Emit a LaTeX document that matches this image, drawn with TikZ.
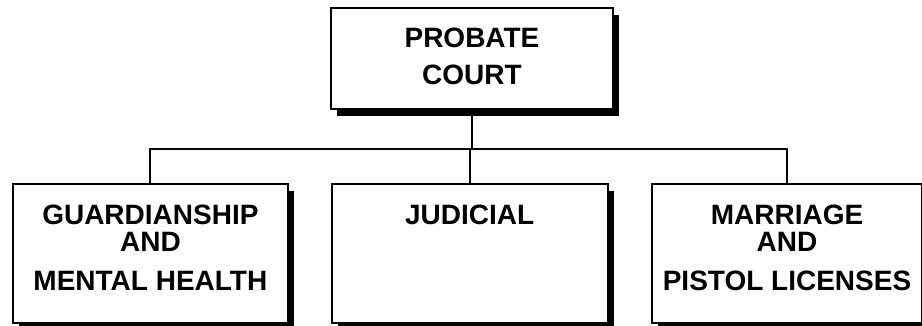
\documentclass[tikz,border=0pt]{standalone}
\usepackage{fontspec}
\setmainfont{Liberation Sans}
\usetikzlibrary{shadows}

% centred text block inside a box, first line at the top
\newcommand{\boxtext}[2]{\parbox[t]{#1}{\centering #2}}

\begin{document}
\begin{tikzpicture}[
    x=1pt, y=-1pt,
    every node/.style={font=\bfseries\fontsize{28}{36.6}\selectfont},
    unit/.style={rectangle, draw, line width=2pt, fill=white, anchor=north, inner sep=0pt,
        drop shadow={shadow xshift=6pt, shadow yshift=-7pt, fill=black, opacity=1}},
    head/.style={unit, minimum width=282pt, text height=39.7pt, text depth=61.3pt},
    branch/.style={unit, text height=40.5pt, text depth=97.5pt},
    link/.style={line width=2pt}
]
    \useasboundingbox (0,0) rectangle (922,326);

    \node[head] (court) at (472,7) {\boxtext{282pt}{PROBATE\\COURT}};

    \node[branch, minimum width=275pt] (guard)    at (150.4,183.5) {\boxtext{275pt}{GUARDIANSHIP\\[-10pt]AND\\[2pt]MENTAL HEALTH}};
    \node[branch, minimum width=276pt] (judicial) at (469.7,183.5) {\boxtext{276pt}{JUDICIAL}};
    \node[branch, minimum width=270pt] (marriage) at (787,183.5)   {\boxtext{270pt}{MARRIAGE\\[-10pt]AND\\[2pt]PISTOL LICENSES}};

    % tree lines
    \coordinate (bus) at (472,149);
    \draw[link] (court.south) -- (bus);
    \draw[link] (guard.north) |- (bus) -| (marriage.north);
    \draw[link] (judicial.north) -- (judicial.north |- bus);
\end{tikzpicture}
\end{document}
